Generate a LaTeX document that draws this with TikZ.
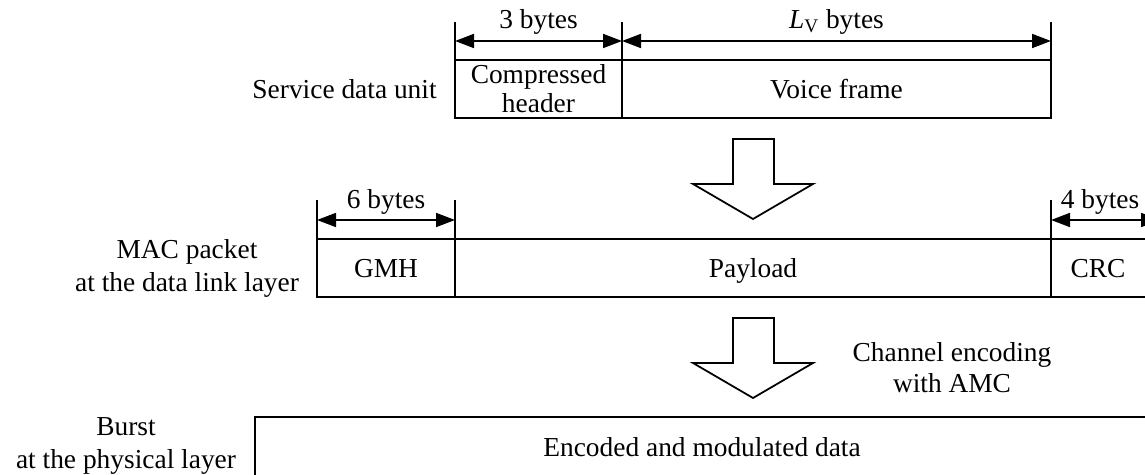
\documentclass[tikz,border=0pt]{standalone}
\usepackage{fontspec}
\setmainfont{Liberation Serif}
\usetikzlibrary{arrows.meta}
\begin{document}
\begin{tikzpicture}[x=0.02cm,y=-0.02cm,
  every node/.style={font=\fontsize{15.6}{18}\selectfont, inner sep=0pt, align=center},
  one/.style={text height=15pt, text depth=3.7pt},
  field/.style={draw, line width=1pt},
  tick/.style={line width=1pt},
  dim/.style={line width=1pt, {Triangle[length=0.38cm,width=0.28cm]}-{Triangle[length=0.38cm,width=0.28cm]}},
  blockarrow/.style={draw, line width=1pt, line join=miter, fill=white},
  lbl/.style={font=\fontsize{15.6}{18.5}\selectfont}]
\useasboundingbox (0,0) rectangle (1145,475);
\clip (0,0) rectangle (1145,475);

% ---- Service data unit ----
\draw[field] (455,60) rectangle (622,118);
\draw[field] (622,60) rectangle (1051,118);
\node[font=\fontsize{15.6}{16.5}\selectfont] (hdr) at (538.5,89) {Compressed\\header};
\node[one] (voice) at (836.5,89) {Voice frame};
\node[one, anchor=east] (sdu) at (437,89) {Service data unit};
\coordinate (t1a) at (455,22); \coordinate (t1b) at (455,60);
\coordinate (t2a) at (622,22); \coordinate (t2b) at (622,60);
\coordinate (t3a) at (1051,22); \coordinate (t3b) at (1051,60);
\draw[tick] (t1a) -- (t1b);
\draw[tick] (t2a) -- (t2b);
\draw[tick] (t3a) -- (t3b);
\coordinate (d1) at (455,41); \coordinate (d2) at (622,41); \coordinate (d3) at (1051,41);
\draw[dim] (d1) -- (d2);
\draw[dim] (d2) -- (d3);
\node[one] (b3) at (538.5,19) {3 bytes};
\node[one] (blv) at (836.5,19) {\textit{L}\textsubscript{V} bytes};

% ---- block arrow 1 ----
\draw[blockarrow] (733,139) -- (774,139) -- (774,184) -- (813,184) -- (753,219) -- (693,184) -- (733,184) -- cycle;

% ---- MAC packet ----
\draw[field] (317,239) rectangle (455,297);
\draw[field] (455,239) rectangle (1051,297);
\draw[field] (1051,239) rectangle (1160,297);
\node[one] (gmh) at (386,268) {GMH};
\node[one] (payload) at (753,268) {Payload};
\node[one] (crc) at (1098,268) {CRC};
\node[lbl] (mac) at (187,268.5) {MAC packet\\at the data link layer};
\coordinate (m1a) at (317,200); \coordinate (m1b) at (317,239);
\coordinate (m2a) at (455,200); \coordinate (m2b) at (455,239);
\coordinate (m3a) at (1051,200); \coordinate (m3b) at (1051,239);
\draw[tick] (m1a) -- (m1b);
\draw[tick] (m2a) -- (m2b);
\draw[tick] (m3a) -- (m3b);
\coordinate (e1) at (317,220); \coordinate (e2) at (455,220);
\coordinate (e3) at (1051,220); \coordinate (e4) at (1160,220);
\draw[dim] (e1) -- (e2);
\draw[dim] (e3) -- (e4);
\node[one] (b6) at (386,199) {6 bytes};
\node[one] (b4) at (1100,199) {4 bytes};

% ---- block arrow 2 ----
\draw[blockarrow] (733,318) -- (774,318) -- (774,363) -- (813,363) -- (753,398) -- (693,363) -- (733,363) -- cycle;
\node[font=\fontsize{15.6}{17.5}\selectfont] (ch) at (952,368) {Channel encoding\\with AMC};

% ---- Burst ----
\draw[field] (255,417) rectangle (1160,500);
\node[one] (enc) at (702,447) {Encoded and modulated data};
\node[font=\fontsize{15.6}{19}\selectfont] (burst) at (126,446) {Burst\\at the physical layer};
\end{tikzpicture}
\end{document}
